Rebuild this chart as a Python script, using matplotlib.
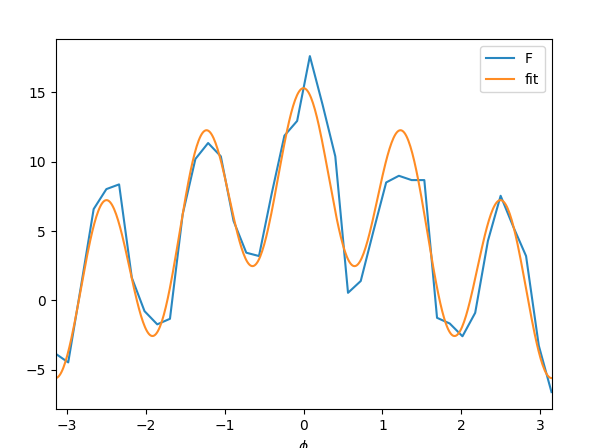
import numpy as np
import matplotlib
matplotlib.use("Agg")
import matplotlib.pyplot as plt

# Sampled data F at 40 equally spaced angles in [-pi, pi]
n_samples = 40
F_values = [-3.83, -4.46, 1.0, 6.58, 8.02, 8.36, 1.64, -0.77, -1.72, -1.32,
            6.21, 10.19, 11.34, 10.38, 5.73, 3.44, 3.20, 7.7, 11.87, 12.93,
            17.60, 14.1, 10.38, 0.55, 1.40, 5.0, 8.50, 8.98, 8.67, 8.67,
            -1.25, -1.66, -2.58, -0.89, 4.29, 7.54, 5.3, 3.20, -3.25, -6.60]

# Fit coefficients: offset + a1*cos(phi) + a5*cos(5 phi)
fit_offset = 4.85
fit_cos1 = 4.47
fit_cos5 = 5.97

phi = np.linspace(-np.pi, np.pi, n_samples)
phi_fine = np.linspace(-np.pi, np.pi, 500)
fit_curve = fit_offset + fit_cos1 * np.cos(phi_fine) + fit_cos5 * np.cos(5 * phi_fine)

fig = plt.figure(figsize=(5.92, 4.48), dpi=100)
ax = fig.add_axes([55.5 / 592, 39.1 / 448, 496 / 592, 369.6 / 448])
ax.plot(phi, F_values, label="F", color="#2887c0")
ax.plot(phi_fine, fit_curve, label="fit", color="#ff8c24")
ax.set_xlim(-np.pi, np.pi)
ax.set_xlabel(r"$\phi$")
ax.legend(loc="upper right")
fig.savefig("out.png", dpi=100)
